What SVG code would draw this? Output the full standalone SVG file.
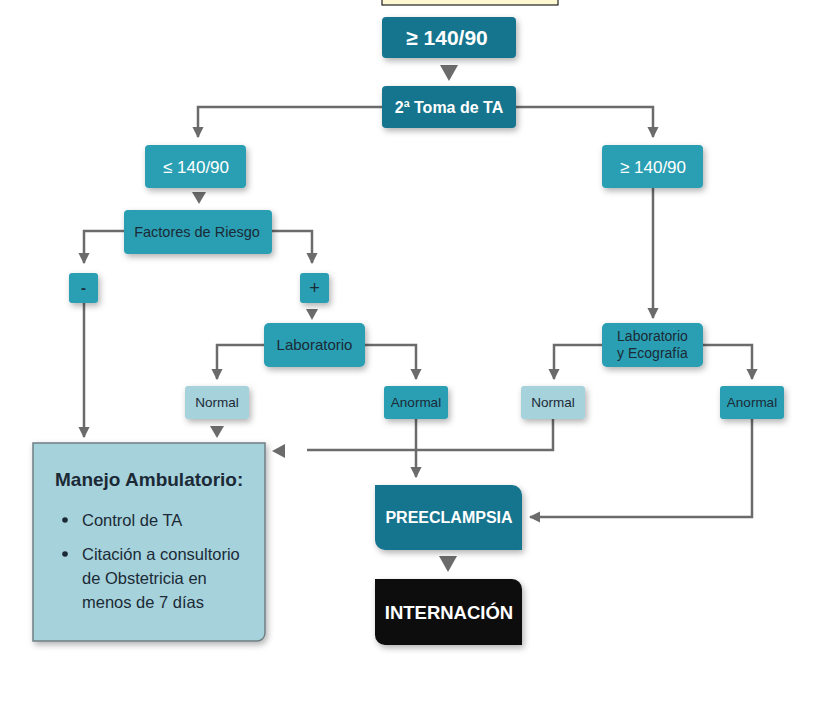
<svg xmlns="http://www.w3.org/2000/svg" width="833" height="710" viewBox="0 0 833 710">
<defs>
<filter id="sh" x="-20%" y="-20%" width="150%" height="160%">
<feDropShadow dx="2" dy="3" stdDeviation="3" flood-color="#000" flood-opacity="0.3"/>
</filter>
<marker id="ah" viewBox="0 0 10 10" refX="9" refY="5" markerWidth="4.5" markerHeight="4.5" orient="auto" markerUnits="strokeWidth">
<path d="M0,0 L10,5 L0,10 Z" fill="#6b6b6b"/>
</marker>
</defs>
<style>
.dk{fill:#17748e;filter:url(#sh)}
.md{fill:#2a9fb3;filter:url(#sh)}
.lt{fill:#a6d2db;filter:url(#sh)}
.bk{fill:#0b0b0d;filter:url(#sh)}
.t{font-family:"Liberation Sans",Arial,sans-serif;text-anchor:middle}
.w{fill:#ffffff}
.d{fill:#1b2a36}
.c{fill:none;stroke:#6b6b6b;stroke-width:2.5}
.tri{fill:#6b6b6b}
</style>
<rect x="382" y="-2" width="176" height="7" fill="#fdf7d2" stroke="#222" stroke-width="1.2"/>
<g id="connectors">
<polygon class="tri" points="440,65 458,65 449,81"/>
<path class="c" d="M382,107 H198 V137" marker-end="url(#ah)"/>
<path class="c" d="M516,107 H653 V137" marker-end="url(#ah)"/>
<polygon class="tri" points="192,192 206,192 199,204"/>
<path class="c" d="M124,231 H84 V263" marker-end="url(#ah)"/>
<path class="c" d="M272,231 H312 V263" marker-end="url(#ah)"/>
<polygon class="tri" points="306,309 318,309 312,320"/>
<path class="c" d="M264,345 H217 V379" marker-end="url(#ah)"/>
<path class="c" d="M365,345 H416 V379" marker-end="url(#ah)"/>
<path class="c" d="M653,188 V318" marker-end="url(#ah)"/>
<path class="c" d="M602,345 H554 V379" marker-end="url(#ah)"/>
<path class="c" d="M703,345 H752 V379" marker-end="url(#ah)"/>
<path class="c" d="M84,303 V437" marker-end="url(#ah)"/>
<polygon class="tri" points="210,426 224,426 217,438"/>
<polygon class="tri" points="285,444 285,458 272,451"/>
<path class="c" d="M307,450 H553 V419"/>
<path class="c" d="M416,419 V477" marker-end="url(#ah)"/>
<path class="c" d="M752,419 V517 H530" marker-end="url(#ah)"/>
<polygon class="tri" points="439,556 457,556 448,572"/>
</g>
<g id="n-top">
<rect class="dk" x="382" y="17" width="134" height="41" rx="4"/>
<text class="t w" x="447" y="45" font-size="21" font-weight="bold">≥ 140/90</text>
</g>
<g id="n-toma">
<rect class="dk" x="382" y="86" width="134" height="42" rx="4"/>
<text class="t w" x="449" y="113" font-size="16" font-weight="bold">2ª Toma de TA</text>
</g>
<g id="n-le">
<rect class="md" x="145" y="145" width="101" height="43" rx="4"/>
<text class="t w" x="196" y="173" font-size="17">≤ 140/90</text>
</g>
<g id="n-ge">
<rect class="md" x="602" y="145" width="101" height="43" rx="4"/>
<text class="t w" x="653" y="173" font-size="17">≥ 140/90</text>
</g>
<g id="n-factores">
<rect class="md" x="124" y="210" width="148" height="44" rx="4"/>
<text class="t d" x="197" y="237" font-size="14.5">Factores de Riesgo</text>
</g>
<g id="n-minus">
<rect class="md" x="69" y="273" width="29" height="30" rx="3"/>
<text class="t d" x="83.5" y="293" font-size="15" font-weight="bold">-</text>
</g>
<g id="n-plus">
<rect class="md" x="300" y="273" width="29" height="30" rx="3"/>
<text class="t d" x="314.5" y="294" font-size="18">+</text>
</g>
<g id="n-lab">
<rect class="md" x="264" y="323" width="101" height="44" rx="5"/>
<text class="t d" x="314.5" y="350" font-size="15">Laboratorio</text>
</g>
<g id="n-labeco">
<rect class="md" x="602" y="323" width="101" height="44" rx="5"/>
<text class="t d" x="652.5" y="341" font-size="14">Laboratorio</text>
<text class="t d" x="652.5" y="358" font-size="14">y Ecografía</text>
</g>
<g id="n-normal1">
<rect class="lt" x="185" y="386" width="64" height="33" rx="3"/>
<text class="t d" x="217" y="407" font-size="13.5">Normal</text>
</g>
<g id="n-anormal1">
<rect class="md" x="384" y="386" width="64" height="33" rx="3"/>
<text class="t d" x="416" y="407" font-size="13.5">Anormal</text>
</g>
<g id="n-normal2">
<rect class="lt" x="521" y="386" width="64" height="33" rx="3"/>
<text class="t d" x="553" y="407" font-size="13.5">Normal</text>
</g>
<g id="n-anormal2">
<rect class="md" x="720" y="386" width="64" height="33" rx="3"/>
<text class="t d" x="752" y="407" font-size="13.5">Anormal</text>
</g>
<g id="n-manejo">
<path class="lt" d="M33,443 H265 V633 A8,8 0 0 1 257,641 H33 Z" stroke="#6f7f84" stroke-width="1.5"/>
<g font-family="Liberation Sans,Arial,sans-serif" fill="#1b2a36">
<text x="55" y="486" font-size="19" font-weight="bold">Manejo Ambulatorio:</text>
<circle cx="65" cy="520" r="2.8"/>
<text x="82" y="526" font-size="16.5">Control de TA</text>
<circle cx="65" cy="554" r="2.8"/>
<text x="82" y="560" font-size="16.5">Citación a consultorio</text>
<text x="82" y="584" font-size="16.5">de Obstetricia en</text>
<text x="82" y="608" font-size="16.5">menos de 7 días</text>
</g>
</g>
<g id="n-pre">
<path class="dk" d="M375,485 H512 A10,10 0 0 1 522,495 V550 H385 A10,10 0 0 1 375,540 Z"/>
<text class="t w" x="449" y="523" font-size="16" font-weight="bold">PREECLAMPSIA</text>
</g>
<g id="n-int">
<path class="bk" d="M375,579 H512 A10,10 0 0 1 522,589 V645 H385 A10,10 0 0 1 375,635 Z"/>
<text class="t w" x="449" y="619" font-size="18.5" font-weight="bold">INTERNACIÓN</text>
</g>
</svg>
